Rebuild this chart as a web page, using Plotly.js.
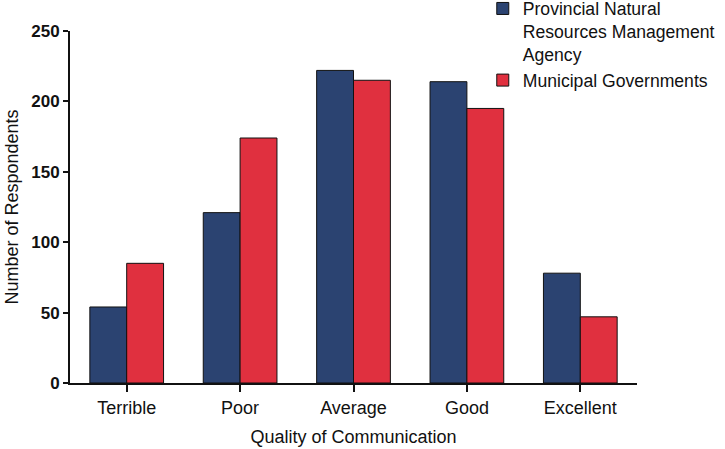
<!DOCTYPE html>
<html>
<head>
<meta charset="utf-8">
<script src="https://cdn.plot.ly/plotly-3.0.1.min.js"></script>
<style>
  html, body { margin: 0; padding: 0; background: #fff; }
  #chart { width: 725px; height: 449px; }
</style>
</head>
<body>
<div id="chart"></div>
<script>
    // categories on the x axis
    const qualityLevels = ["Terrible", "Poor", "Average", "Good", "Excellent"];

    // respondents per group
    const provincialValues = [54, 121, 222, 214, 78];
    const municipalValues = [85, 174, 215, 195, 47];

    const seriesNames = ["Provincial Natural<br>Resources Management<br>Agency", "Municipal Governments"];
    const yTicks = [0, 50, 100, 150, 200, 250];

    const fontFamily = "Liberation Sans, Arial, sans-serif";

    const data = [
      {
        type: "bar",
        name: seriesNames[0],
        x: qualityLevels,
        y: provincialValues,
        marker: { color: "#2b4371", line: { color: "#111", width: 1 } }
      },
      {
        type: "bar",
        name: seriesNames[1],
        x: qualityLevels,
        y: municipalValues,
        marker: { color: "#e0303f", line: { color: "#111", width: 1 } }
      }
    ];

    const layout = {
      width: 725,
      height: 449,
      margin: { l: 70, r: 88, t: 31, b: 66, autoexpand: false },
      paper_bgcolor: "#fff",
      plot_bgcolor: "#fff",
      barmode: "group",
      bargap: 0.35,
      bargroupgap: 0,
      font: { family: fontFamily, size: 17, color: "#111" },
      showlegend: true,
      legend: {
        x: 0.728,
        y: 1.115,
        xanchor: "left",
        yanchor: "top",
        valign: "top",
        bgcolor: "rgba(0,0,0,0)",
        font: { family: fontFamily, size: 17.6, color: "#111" },
        tracegroupgap: 0
      },
      xaxis: {
        type: "category",
        range: [-0.5, 4.5],
        showline: true,
        linecolor: "#111",
        linewidth: 2,
        ticks: "outside",
        ticklen: 7,
        tickwidth: 2,
        tickcolor: "#111",
        showgrid: false,
        zeroline: false,
        tickfont: { family: fontFamily, size: 18, color: "#111" },
        title: { text: "Quality of Communication", font: { family: fontFamily, size: 18, color: "#111" }, standoff: 14 }
      },
      yaxis: {
        range: [0, 250],
        tickvals: yTicks,
        ticktext: yTicks.map(v => "<b>" + v + "</b>"),
        showline: true,
        linecolor: "#111",
        linewidth: 2,
        ticks: "outside",
        ticklen: 5,
        tickwidth: 2,
        tickcolor: "#111",
        showgrid: false,
        zeroline: false,
        tickfont: { family: fontFamily, size: 17, color: "#111" },
        title: { text: "Number of Respondents", font: { family: fontFamily, size: 18, color: "#111" }, standoff: 8 }
      }
    };

    Plotly.newPlot("chart", data, layout, { displayModeBar: false, staticPlot: true });
</script>
</body>
</html>
